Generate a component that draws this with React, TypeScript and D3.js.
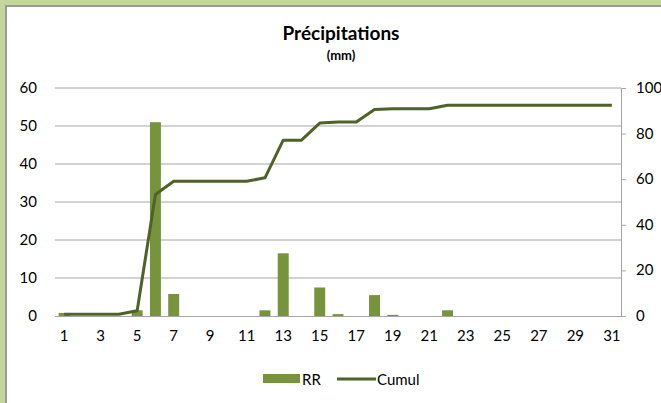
import React, { useRef, useEffect } from "react";
import * as d3 from "d3";

const days = d3.range(1, 32);
const rr = [0.8, 0, 0, 0, 1.5, 51, 5.8, 0, 0, 0, 0, 1.5, 16.5, 0, 7.5, 0.5, 0, 5.5, 0.3, 0, 0, 1.5, 0, 0, 0, 0, 0, 0, 0, 0, 0];
const cumul = [0.8, 0.8, 0.8, 0.8, 2.3, 53.3, 59.1, 59.1, 59.1, 59.1, 59.1, 60.6, 77.1, 77.1, 84.6, 85.1, 85.1, 90.6, 90.9, 90.9, 90.9, 92.4, 92.4, 92.4, 92.4, 92.4, 92.4, 92.4, 92.4, 92.4, 92.4];
const leftTicks = [0, 10, 20, 30, 40, 50, 60];
const rightTicks = [0, 20, 40, 60, 80, 100];
const xLabels = [1, 3, 5, 7, 9, 11, 13, 15, 17, 19, 21, 23, 25, 27, 29, 31];

const W = 661;
const H = 403;
const barColor = "#77933c";
const lineColor = "#4f6228";
const gridColor = "#a6a6a6";
const font = "Lato, 'Open Sans', sans-serif";
const tickSize = "15px";

const App = () => {
  const svgRef = useRef<SVGSVGElement>(null);

  useEffect(() => {
    const svg = d3.select(svgRef.current);
    svg.selectAll("*").remove();

    // frame
    svg.append("rect").attr("width", W).attr("height", H).attr("fill", "#c3d69b");
    svg.append("rect").attr("x", 5).attr("y", 5).attr("width", W).attr("height", H).attr("fill", "#9a9a9a");
    svg.append("rect").attr("x", 7).attr("y", 7).attr("width", W).attr("height", H).attr("fill", "#fff");

    const left = 55, right = 621, top = 88, bottom = 316;

    const x = d3.scaleBand<number>().domain(days).range([left, right]).paddingInner(0.4).paddingOuter(0.2);
    const xc = (d: number) => (x(d) as number) + x.bandwidth() / 2;
    const yL = d3.scaleLinear().domain([0, 60]).range([bottom, top]);
    const yR = d3.scaleLinear().domain([0, 100]).range([bottom, top]);

    // title
    svg.append("text").attr("x", 341).attr("y", 40).attr("text-anchor", "middle")
      .style("font-family", font).style("font-weight", "bold").style("font-size", "19px").text("Précipitations");
    svg.append("text").attr("x", 341).attr("y", 60).attr("text-anchor", "middle")
      .style("font-family", font).style("font-weight", "bold").style("font-size", "13px").text("(mm)");

    // gridlines
    svg.append("g").selectAll("line").data(leftTicks.filter((d) => d > 0)).enter().append("line")
      .attr("x1", left).attr("x2", right).attr("y1", (d) => yL(d)).attr("y2", (d) => yL(d))
      .attr("stroke", gridColor).attr("stroke-width", 1);

    // left labels
    svg.append("g").selectAll("text").data(leftTicks).enter().append("text")
      .attr("x", 37).attr("y", (d) => yL(d) + 5).attr("text-anchor", "end")
      .style("font-family", font).style("font-size", tickSize).text((d) => d);

    // right axis
    svg.append("line").attr("x1", right + 0.5).attr("x2", right + 0.5).attr("y1", top).attr("y2", bottom)
      .attr("stroke", gridColor);
    svg.append("g").selectAll("line").data(rightTicks).enter().append("line")
      .attr("x1", right).attr("x2", right + 5).attr("y1", (d) => yR(d) + 0.5).attr("y2", (d) => yR(d) + 0.5)
      .attr("stroke", gridColor);
    svg.append("g").selectAll("text").data(rightTicks).enter().append("text")
      .attr("x", 636).attr("y", (d) => yR(d) + 5)
      .style("font-family", font).style("font-size", tickSize).text((d) => d);

    // bars
    svg.append("g").selectAll("rect").data(rr).enter().append("rect")
      .attr("x", (_, i) => x(days[i]) as number).attr("width", x.bandwidth())
      .attr("y", (d) => yL(d)).attr("height", (d) => bottom - yL(d))
      .attr("fill", barColor);

    // x axis
    svg.append("line").attr("x1", left).attr("x2", right + 5).attr("y1", bottom + 0.5).attr("y2", bottom + 0.5)
      .attr("stroke", gridColor);
    svg.append("g").selectAll("text").data(xLabels).enter().append("text")
      .attr("x", (d) => xc(d)).attr("y", bottom + 25).attr("text-anchor", "middle")
      .style("font-family", font).style("font-size", tickSize).text((d) => d);

    // cumulative line
    const line = d3.line<number>().x((_, i) => xc(days[i])).y((d) => yR(d));
    svg.append("path").attr("d", line(cumul)).attr("fill", "none")
      .attr("stroke", lineColor).attr("stroke-width", 3).attr("stroke-linejoin", "round");

    // legend
    svg.append("rect").attr("x", 263).attr("y", 374).attr("width", 37).attr("height", 9).attr("fill", barColor);
    svg.append("text").attr("x", 302).attr("y", 385).style("font-family", font).style("font-size", tickSize).text("RR");
    svg.append("line").attr("x1", 337).attr("x2", 376).attr("y1", 379).attr("y2", 379)
      .attr("stroke", lineColor).attr("stroke-width", 3);
    svg.append("text").attr("x", 377).attr("y", 385).style("font-family", font).style("font-size", tickSize).text("Cumul");
  }, []);

  return (
    <div style={{ position: "absolute", left: 0, top: 0 }}>
      <svg ref={svgRef} width={W} height={H} style={{ display: "block" }}></svg>
    </div>
  );
};

export default App;
